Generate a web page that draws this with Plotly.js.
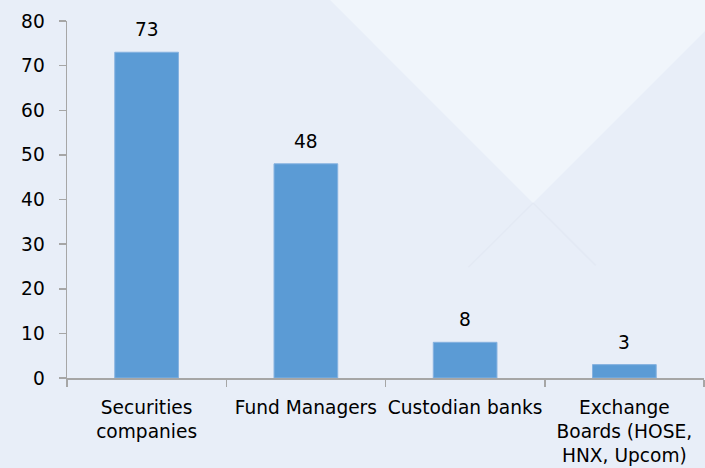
<!DOCTYPE html>
<html>
<head>
<meta charset="utf-8">
<script src="https://cdn.plot.ly/plotly-3.0.1.min.js"></script>
<style>html,body{margin:0;padding:0;background:#E8EEF8;}#chart{width:705px;height:468px;}</style>
</head>
<body>
<div id="chart"></div>
<script>
const categories = ["Securities<br>companies", "Fund Managers", "Custodian banks", "Exchange<br>Boards (HOSE,<br>HNX, Upcom)"];
const values = [73, 48, 8, 3];
const yTicks = [0, 10, 20, 30, 40, 50, 60, 70, 80];

const FONT = "DejaVu Sans, Verdana, sans-serif";
const FS = 18.6;

const trace = {
  type: "bar",
  x: categories,
  y: values,
  width: 0.4,
  marker: {color: "#5B9BD5", line: {color: "#86B2E0", width: 1}},
  hoverinfo: "none"
};

const annotations = categories.map((c, i) => ({
  x: c, y: values[i], xref: "x", yref: "y",
  text: String(values[i]), showarrow: false,
  yanchor: "bottom", yshift: 10,
  font: {family: FONT, size: FS, color: "#000"}
}));

const layout = {
  width: 705, height: 468,
  margin: {l: 67, r: 1, t: 21, b: 90},
  paper_bgcolor: "#E8EEF8",
  plot_bgcolor: "rgba(0,0,0,0)",
  showlegend: false,
  font: {family: FONT, size: FS, color: "#000"},
  xaxis: {
    type: "category",
    showline: true, linecolor: "#A6A6A6", linewidth: 1.5,
    ticks: "outside", tickson: "boundaries", ticklen: 7, tickcolor: "#A6A6A6", tickwidth: 1.5,
    showgrid: false, zeroline: false,
    ticklabelstandoff: 12,
    tickfont: {family: FONT, size: FS, color: "#000"},
    tickangle: 0
  },
  yaxis: {
    range: [0, 80],
    tickvals: yTicks,
    ticktext: yTicks.map(String),
    showline: true, linecolor: "#A6A6A6", linewidth: 1.5,
    ticks: "outside", ticklen: 7, tickcolor: "#A6A6A6", tickwidth: 1.5,
    showgrid: false, zeroline: false,
    ticklabelstandoff: 10,
    tickfont: {family: FONT, size: FS, color: "#000"}
  },
  annotations: annotations,
  shapes: [
    {type: "path", xref: "paper", yref: "paper", layer: "below",
     path: "M 0.405 1.073 L 0.7316 0.49 L 1.0094 0.986 L 1.0094 1.073 Z",
     fillcolor: "#F0F5FB", line: {width: 0}},
    {type: "path", xref: "paper", yref: "paper", layer: "below",
     path: "M 0.7316 0.49 L 0.83 0.315",
     line: {color: "#E3E9F4", width: 1.5}},
    {type: "path", xref: "paper", yref: "paper", layer: "below",
     path: "M 0.7316 0.49 L 0.63 0.31",
     line: {color: "#E3E9F4", width: 1.5}}
  ]
};

Plotly.newPlot("chart", [trace], layout, {staticPlot: true, displayModeBar: false});
</script>
</body>
</html>
